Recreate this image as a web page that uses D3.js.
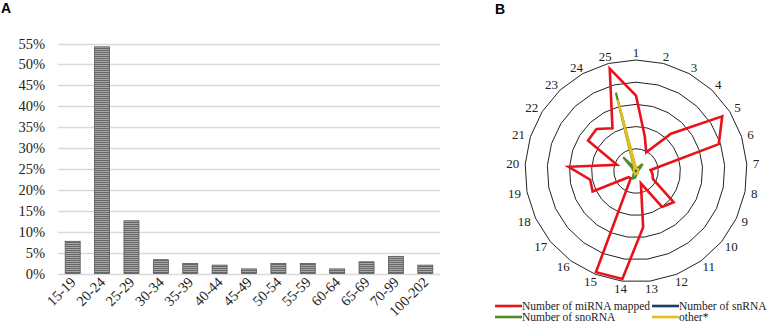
<!DOCTYPE html>
<html lang="en">
	<head>
		<meta charset="utf-8">
		<title>Read length distribution and radar</title>
		<script type="text/javascript" src="https://cdn.jsdelivr.net/npm/d3@7"></script>
		<style type="text/css">
			body { margin: 0; background: #fff; }
			svg { display: block; }
		</style>
	</head>
	<body>
		<script type="text/javascript">

			//Panel A data
			var lengthBins = ["15-19", "20-24", "25-29", "30-34", "35-39", "40-44", "45-49",
			                  "50-54", "55-59", "60-64", "65-69", "70-99", "100-202"];
			var binShare = [7.7, 54.2, 12.6, 3.3, 2.4, 2.0, 1.1, 2.4, 2.4, 1.1, 2.8, 4.1, 2.0];
			var yTicks = [0, 5, 10, 15, 20, 25, 30, 35, 40, 45, 50, 55];

			//Panel B data
			var radarAxes = ["1", "2", "3", "4", "5", "6", "7", "8", "9", "10", "11", "12", "13",
			                 "14", "15", "16", "17", "18", "19", "20", "21", "22", "23", "24", "25"];
			var miRNA  = [170, 80, 48, 115, 230, 196, 33, 38, 42, 110, 100, 30, 128,
			              245, 245, 20, 22, 108, 105, 152, 45, 128, 130, 110, 238];
			var snRNA  = [3, 3, 3, 3, 4, 3, 4, 3, 3, 3, 3, 3, 3,
			              3, 3, 3, 3, 3, 3, 3, 3, 3, 3, 3, 3];
			var snoRNA = [5, 5, 8, 22, 10, 6, 5, 4, 4, 5, 6, 6, 8,
			              15, 18, 10, 6, 5, 5, 6, 8, 8, 42, 10, 182];
			var other  = [6, 5, 5, 6, 6, 5, 5, 5, 5, 5, 5, 5, 6,
			              7, 6, 5, 5, 5, 5, 5, 5, 5, 6, 7, 165];
			var ringTicks = [50, 100, 150, 200, 250];

			var seriesNames = ["Number of miRNA mapped", "Number of snRNA", "Number of snoRNA", "other*"];
			var seriesColors = ["#e8121a", "#1f3b66", "#4f8a2b", "#e6bf1c"];

			var w = 772;
			var h = 331;
			var serif = "'Liberation Serif', 'Times New Roman', serif";

			var svg = d3.select("body")
						.append("svg")
						.attr("width", w)
						.attr("height", h);

			//striped bar fill
			var defs = svg.append("defs");
			var pat = defs.append("pattern")
				.attr("id", "stripes")
				.attr("patternUnits", "userSpaceOnUse")
				.attr("width", 4)
				.attr("height", 2);
			pat.append("rect").attr("width", 4).attr("height", 2).attr("fill", "#a8a8a8");
			pat.append("rect").attr("width", 4).attr("height", 1).attr("fill", "#666");

			//---------- Panel A ----------
			svg.append("text")
				.attr("x", 1).attr("y", 13)
				.style("font-family", "'Liberation Sans', Arial, sans-serif")
				.style("font-weight", "bold")
				.style("font-size", "14px")
				.text("A");

			var x = d3.scaleBand()
				.domain(lengthBins)
				.range([58, 440])
				.paddingInner(0.49)
				.paddingOuter(0.245);

			var y = d3.scaleLinear()
				.domain([0, 55])
				.range([273.5, 43.5]);

			var gA = svg.append("g");

			gA.append("g")
				.selectAll("line")
				.data(yTicks)
				.enter()
				.append("line")
				.attr("x1", 58)
				.attr("x2", 440)
				.attr("y1", function(d) { return Math.round(y(d)) + 0.5; })
				.attr("y2", function(d) { return Math.round(y(d)) + 0.5; })
				.style("stroke", "#d9d9d9")
				.style("stroke-width", 1.3);

			gA.append("g")
				.selectAll("text")
				.data(yTicks)
				.enter()
				.append("text")
				.attr("x", 45)
				.attr("y", function(d) { return y(d) + 5; })
				.attr("text-anchor", "end")
				.style("font-family", serif)
				.style("font-size", "14.5px")
				.style("fill", "#222")
				.text(function(d) { return d + "%"; });

			gA.append("g")
				.selectAll("rect")
				.data(binShare)
				.enter()
				.append("rect")
				.attr("x", function(d, i) { return x(lengthBins[i]); })
				.attr("y", function(d) { return y(d); })
				.attr("width", x.bandwidth())
				.attr("height", function(d) { return y(0) - y(d); })
				.style("fill", "url(#stripes)")
				.style("stroke", "#555")
				.style("stroke-width", 0.8);

			gA.append("g")
				.selectAll("text")
				.data(lengthBins)
				.enter()
				.append("text")
				.attr("transform", function(d) {
					return "translate(" + (x(d) + x.bandwidth() / 2 + 4) + ",283) rotate(-45)";
				})
				.attr("text-anchor", "end")
				.style("font-family", serif)
				.style("font-size", "14.5px")
				.style("fill", "#222")
				.text(function(d) { return d; });

			//---------- Panel B ----------
			svg.append("text")
				.attr("x", 495).attr("y", 14)
				.style("font-family", "'Liberation Sans', Arial, sans-serif")
				.style("font-weight", "bold")
				.style("font-size", "14px")
				.text("B");

			var cx = 636, cy = 171, R = 111;
			var r = d3.scaleLinear().domain([0, 250]).range([0, R]);
			var angle = d3.scalePoint()
				.domain(radarAxes)
				.range([0, 2 * Math.PI * 24 / 25]);

			var gB = svg.append("g")
				.attr("transform", "translate(" + cx + "," + cy + ")");

			var radial = d3.lineRadial()
				.curve(d3.curveLinearClosed);

			gB.append("g")
				.selectAll("path")
				.data(ringTicks)
				.enter()
				.append("path")
				.attr("d", function(v) {
					return radial(radarAxes.map(function(a) { return [angle(a), r(v)]; }));
				})
				.style("fill", "none")
				.style("stroke", "#222")
				.style("stroke-width", 1);

			gB.append("g")
				.selectAll("text")
				.data(radarAxes)
				.enter()
				.append("text")
				.attr("x", function(a) {
					var t = angle(a);
					return Math.sin(t) * (R + 6) + Math.sin(t) * (a.length * 3.3);
				})
				.attr("y", function(a) {
					var t = angle(a);
					return -Math.cos(t) * (R + 5) - Math.cos(t) * 2.5 + 4.5;
				})
				.attr("text-anchor", "middle")
				.style("font-family", serif)
				.style("font-size", "13px")
				.style("fill", "#222")
				.text(function(a) { return a; });

			var allSeries = [miRNA, snRNA, snoRNA, other];

			gB.append("g")
				.selectAll("path")
				.data(allSeries)
				.enter()
				.append("path")
				.attr("d", function(vals) {
					return radial(vals.map(function(v, i) { return [angle(radarAxes[i]), r(v)]; }));
				})
				.style("fill", "none")
				.style("stroke", function(d, i) { return seriesColors[i]; })
				.style("stroke-width", function(d, i) { return i === 0 ? 2.6 : 2.2; })
				.style("stroke-linejoin", "miter");

			//legend
			var legendPos = [[495, 306], [652, 306], [495, 317], [652, 317]];
			var legend = svg.append("g")
				.selectAll("g")
				.data(seriesNames)
				.enter()
				.append("g")
				.attr("transform", function(d, i) {
					return "translate(" + legendPos[i][0] + "," + legendPos[i][1] + ")";
				});

			legend.append("line")
				.attr("x1", 0).attr("x2", 27)
				.attr("y1", 0).attr("y2", 0)
				.style("stroke", function(d, i) { return seriesColors[i]; })
				.style("stroke-width", 2.6);

			legend.append("text")
				.attr("x", 27)
				.attr("y", 4)
				.style("font-family", serif)
				.style("font-size", "11.5px")
				.style("fill", "#222")
				.text(function(d) { return d; });

		</script>
	</body>
</html>
